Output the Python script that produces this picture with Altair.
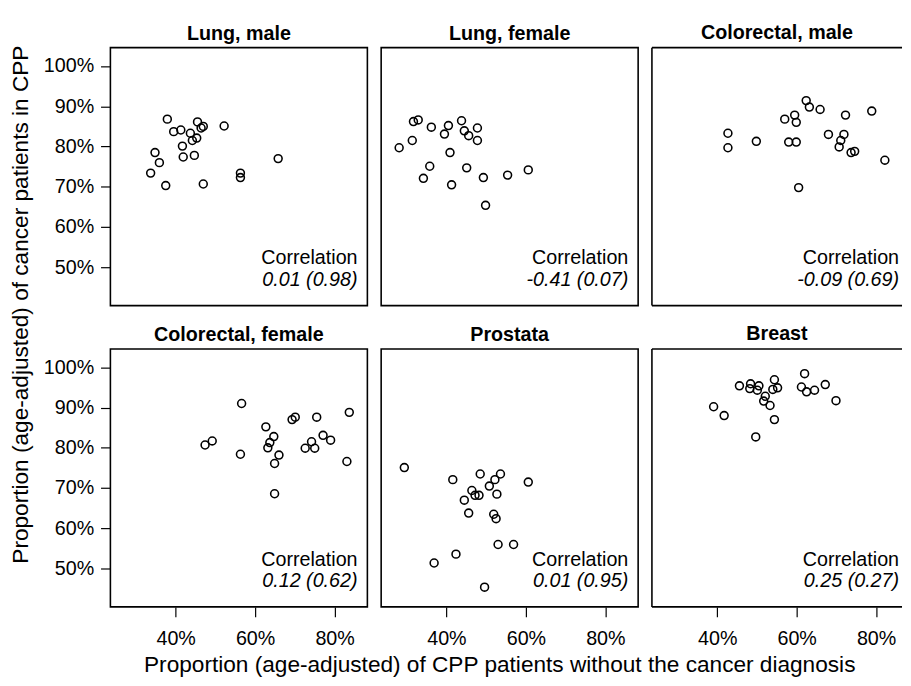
import altair as alt
import pandas as pd

FONT = "Liberation Sans"

panel_names = ["Lung, male", "Lung, female", "Colorectal, male",
               "Colorectal, female", "Prostata", "Breast"]
corr_values = ["0.01 (0.98)", "-0.41 (0.07)", "-0.09 (0.69)",
               "0.12 (0.62)", "0.01 (0.95)", "0.25 (0.27)"]

# values in percent
lung_male_x = [37.9, 39.5, 41.3, 43.7, 45.5, 46.95, 46.4, 52.2, 45.3, 44.2, 41.7,
               34.8, 35.9, 33.7, 37.5, 41.9, 44.7, 46.95, 56.3, 56.3, 65.8]
lung_male_y = [86.8, 83.7, 84.1, 83.3, 86.1, 85.0, 84.6, 85.1, 82.1, 81.5, 80.1,
               78.5, 76.0, 73.4, 70.3, 77.4, 77.8, 70.7, 73.4, 72.3, 77.0]

lung_female_x = [28.1, 31.4, 31.7, 32.9, 36.2, 39.5, 40.5, 43.8, 44.5, 45.6, 47.8,
                 47.8, 40.9, 35.8, 34.2, 45.1, 41.3, 49.3, 55.4, 60.6, 49.85]
lung_female_y = [79.7, 81.5, 86.2, 86.6, 84.8, 83.1, 85.2, 86.4, 83.9, 82.7, 84.6,
                 81.5, 78.5, 75.1, 72.1, 74.7, 70.5, 72.3, 72.9, 74.2, 65.4]

colo_male_x = [42.7, 42.7, 49.85, 57.0, 59.5, 59.9, 58.0, 59.9, 62.4, 63.2, 65.9,
               72.3, 78.9, 68.0, 71.9, 71.1, 70.7, 73.7, 74.6, 82.2, 60.5]
colo_male_y = [83.3, 79.7, 81.3, 86.8, 87.8, 86.0, 81.1, 81.1, 91.4, 89.8, 89.2,
               87.8, 88.8, 83.0, 83.0, 81.5, 79.9, 78.5, 78.8, 76.6, 69.8]

colo_female_x = [56.6, 47.4, 49.2, 56.3, 62.7, 64.7, 63.7, 63.2, 66.0, 64.9, 64.9,
                 69.3, 70.1, 75.5, 83.7, 72.6, 74.2, 75.0, 77.1, 79.0, 83.1]
colo_female_y = [91.0, 80.7, 81.7, 78.4, 85.2, 82.8, 81.3, 80.0, 78.2, 76.1, 68.6,
                 87.0, 87.6, 87.6, 88.8, 79.9, 81.5, 79.9, 83.1, 81.9, 76.6]

prostata_x = [29.4, 41.6, 48.5, 53.6, 52.2, 50.8, 60.6, 46.4, 47.2, 48.2, 52.7,
              44.5, 45.6, 51.9, 52.5, 53.0, 56.9, 42.4, 36.9, 49.6]
prostata_y = [75.1, 72.1, 73.5, 73.5, 72.1, 70.5, 71.5, 69.4, 68.2, 68.2, 68.5,
              67.0, 63.8, 63.5, 62.4, 56.0, 56.0, 53.6, 51.4, 45.4]

breast_x = [39.1, 41.75, 45.6, 48.4, 50.5, 48.2, 50.1, 54.4, 54.0, 55.2, 52.1,
            51.7, 53.3, 54.4, 49.7, 62.0, 61.2, 62.5, 64.5, 67.2, 69.9]
breast_y = [90.2, 88.0, 95.4, 95.9, 95.4, 94.7, 94.3, 96.9, 94.5, 94.9, 92.8,
            91.6, 90.5, 87.0, 82.7, 98.4, 95.1, 93.9, 94.3, 95.7, 91.7]

xs = [lung_male_x, lung_female_x, colo_male_x, colo_female_x, prostata_x, breast_x]
ys = [lung_male_y, lung_female_y, colo_male_y, colo_female_y, prostata_y, breast_y]

x_ticks = [40, 60, 80]
y_ticks = [50, 60, 70, 80, 90, 100]

X_TITLE = "Proportion (age-adjusted) of CPP patients without the cancer diagnosis"
Y_TITLE = "Proportion (age-adjusted) of cancer patients in CPP"

# geometry
W = 261
W3 = 254
H = 262
X0 = 23.57
PX_X = 4.035
Y_DOM = [40.5, 104.55]
TEXT_X = X0 + 251 / PX_X
TEXT_Y1 = 52.2
TEXT_Y2 = 46.8


def make_panel(idx, row, col):
    w = W3 if col == 2 else W
    xscale = alt.Scale(domain=[X0, X0 + w / PX_X], nice=False, zero=False)
    yscale = alt.Scale(domain=Y_DOM, nice=False, zero=False)
    if row == 1:
        xaxis = alt.Axis(values=x_ticks, labelExpr="datum.value + '%'",
                         tickSize=10, tickWidth=1.2, tickColor="black",
                         domain=False, grid=False, labelFontSize=20,
                         labelColor="black", labelFont=FONT, labelPadding=12,
                         title=None, labelFlush=False, labelOverlap=False)
    else:
        xaxis = None
    if col == 0:
        yaxis = alt.Axis(values=y_ticks, labelExpr="datum.value + '%'",
                         tickSize=10, tickWidth=1.2, tickColor="black",
                         domain=False, grid=False, labelFontSize=20,
                         labelColor="black", labelFont=FONT, labelPadding=7,
                         title=None, labelFlush=False, labelOverlap=False)
    else:
        yaxis = None
    df = pd.DataFrame({"x": xs[idx], "y": ys[idx]})
    points = alt.Chart(df).mark_point(
        shape="circle", filled=False, color="black", size=64,
        strokeWidth=1.6, opacity=1
    ).encode(
        x=alt.X("x:Q", scale=xscale, axis=xaxis),
        y=alt.Y("y:Q", scale=yscale, axis=yaxis),
    )
    ann1 = pd.DataFrame({"x": [TEXT_X], "y": [TEXT_Y1], "t": ["Correlation"]})
    ann2 = pd.DataFrame({"x": [TEXT_X], "y": [TEXT_Y2], "t": [corr_values[idx]]})
    t1 = alt.Chart(ann1).mark_text(
        align="right", baseline="middle", fontSize=20, font=FONT, color="black"
    ).encode(
        x=alt.X("x:Q", scale=xscale, axis=xaxis),
        y=alt.Y("y:Q", scale=yscale, axis=yaxis),
        text="t:N",
    )
    t2 = alt.Chart(ann2).mark_text(
        align="right", baseline="middle", fontSize=20, font=FONT,
        fontStyle="italic", color="black"
    ).encode(
        x=alt.X("x:Q", scale=xscale, axis=xaxis),
        y=alt.Y("y:Q", scale=yscale, axis=yaxis),
        text="t:N",
    )
    layers = [points, t1, t2]
    props = dict(
        width=w, height=H,
        title=alt.TitleParams(panel_names[idx], fontSize=20, fontWeight="bold",
                              font=FONT, color="black", offset=4),
    )
    if col == 2:
        # right-most panel is cut by the figure edge: frame drawn on 3 sides
        hedge = pd.DataFrame({"y": [Y_DOM[0], Y_DOM[1]]})
        vedge = pd.DataFrame({"x": [X0]})
        top_bottom = alt.Chart(hedge).mark_rule(color="black", strokeWidth=1.6).encode(
            y=alt.Y("y:Q", scale=yscale, axis=yaxis))
        left = alt.Chart(vedge).mark_rule(color="black", strokeWidth=1.6).encode(
            x=alt.X("x:Q", scale=xscale, axis=xaxis))
        layers = [top_bottom, left] + layers
        props["view"] = alt.ViewConfig(stroke=None)
    return alt.layer(*layers).properties(**props)


row1 = alt.hconcat(*[make_panel(i, 0, i) for i in range(3)], spacing=12)
row2 = alt.hconcat(*[make_panel(3 + i, 1, i) for i in range(3)], spacing=12)

grid = alt.vconcat(row1, row2, spacing=18).properties(
    title=alt.TitleParams(Y_TITLE, orient="left", anchor="middle", fontSize=23,
                          fontWeight="normal", font=FONT, color="black",
                          offset=10, dx=32),
)

chart = alt.vconcat(grid).properties(
    title=alt.TitleParams(X_TITLE, orient="bottom", anchor="middle", fontSize=23,
                          fontWeight="normal", font=FONT, color="black",
                          offset=5, dx=44),
    padding={"left": 2, "top": 10, "right": 0, "bottom": 0},
    background="white",
).configure_view(
    stroke="black", strokeWidth=1.6
)

chart.save("out.html", embed_options={"renderer": "svg", "actions": False})
